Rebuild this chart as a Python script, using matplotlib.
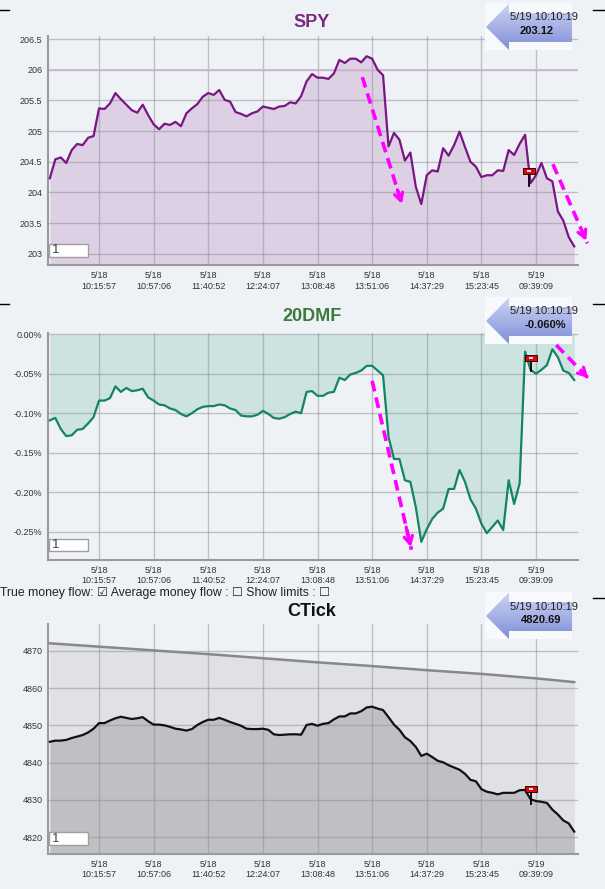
import numpy as np
import matplotlib.pyplot as plt
from matplotlib.patches import Rectangle, Polygon
from matplotlib.lines import Line2D
from matplotlib.colors import LinearSegmentedColormap

W, H = 605, 889
BG = '#EEF2F6'
FONT = ['Liberation Sans', 'DejaVu Sans']
plt.rcParams['font.family'] = FONT

# x axis is sample index, ticks every 10 samples
tick_idx = [9, 19, 29, 39, 49, 59, 69, 79, 89]
tick_day = ['5/18'] * 8 + ['5/19']
tick_time = ['10:15:57', '10:57:06', '11:40:52', '12:24:07', '13:08:48',
             '13:51:06', '14:37:29', '15:23:45', '09:39:09']

spy = [204.23, 204.54, 204.57, 204.48, 204.69, 204.79, 204.77, 204.89, 204.92, 205.37,
       205.36, 205.45, 205.62, 205.52, 205.43, 205.34, 205.30, 205.43, 205.26, 205.11,
       205.03, 205.12, 205.10, 205.15, 205.08, 205.29, 205.37, 205.44, 205.56, 205.62,
       205.59, 205.67, 205.51, 205.48, 205.31, 205.28, 205.24, 205.29, 205.32, 205.40,
       205.38, 205.36, 205.40, 205.41, 205.47, 205.45, 205.57, 205.81, 205.93, 205.87,
       205.87, 205.85, 205.94, 206.16, 206.11, 206.18, 206.18, 206.12, 206.22, 206.18,
       206.00, 205.91, 204.75, 204.97, 204.86, 204.52, 204.65, 204.09, 203.81, 204.28,
       204.36, 204.34, 204.72, 204.60, 204.77, 204.99, 204.74, 204.50, 204.42, 204.25,
       204.28, 204.28, 204.36, 204.35, 204.69, 204.61, 204.79, 204.94, 204.15, 204.28,
       204.48, 204.23, 204.18, 203.69, 203.54, 203.27, 203.12]

dmf = [-0.109, -0.106, -0.120, -0.129, -0.128, -0.121, -0.120, -0.113, -0.105, -0.084,
       -0.084, -0.081, -0.066, -0.073, -0.068, -0.072, -0.071, -0.069, -0.080, -0.084,
       -0.089, -0.090, -0.094, -0.096, -0.101, -0.104, -0.100, -0.095, -0.092, -0.091,
       -0.091, -0.089, -0.090, -0.094, -0.096, -0.103, -0.104, -0.104, -0.102, -0.097,
       -0.101, -0.106, -0.107, -0.105, -0.101, -0.098, -0.100, -0.073, -0.072, -0.078,
       -0.078, -0.074, -0.073, -0.055, -0.058, -0.051, -0.049, -0.046, -0.040, -0.040,
       -0.046, -0.052, -0.130, -0.158, -0.158, -0.185, -0.187, -0.219, -0.263, -0.247,
       -0.234, -0.226, -0.221, -0.196, -0.196, -0.172, -0.187, -0.209, -0.221, -0.240,
       -0.252, -0.244, -0.236, -0.248, -0.185, -0.215, -0.189, -0.022, -0.045, -0.050,
       -0.045, -0.039, -0.019, -0.029, -0.046, -0.049, -0.058]

ctick = [4845.6, 4845.9, 4845.9, 4846.1, 4846.6, 4847.0, 4847.4, 4848.1, 4849.1, 4850.6,
         4850.6, 4851.3, 4851.9, 4852.3, 4852.0, 4851.7, 4851.9, 4852.2, 4851.1, 4850.2,
         4850.2, 4850.0, 4849.6, 4849.1, 4848.9, 4848.6, 4849.0, 4850.1, 4850.9, 4851.5,
         4851.5, 4852.0, 4851.5, 4850.9, 4850.4, 4849.9, 4849.1, 4849.0, 4849.0, 4849.1,
         4848.8, 4847.6, 4847.4, 4847.5, 4847.6, 4847.6, 4847.5, 4850.1, 4850.4, 4849.9,
         4850.4, 4850.6, 4851.6, 4852.4, 4852.4, 4853.2, 4853.2, 4853.8, 4854.8, 4855.0,
         4854.5, 4854.1, 4852.2, 4850.2, 4848.8, 4846.8, 4845.8, 4844.2, 4841.8, 4842.4,
         4841.5, 4840.5, 4840.1, 4839.3, 4838.7, 4838.1, 4837.0, 4835.4, 4835.0, 4832.9,
         4832.2, 4831.9, 4831.5, 4831.9, 4831.9, 4831.9, 4832.6, 4832.7, 4830.2, 4829.7,
         4829.5, 4829.2, 4827.4, 4826.1, 4824.5, 4823.7, 4821.5]

trend_idx = [0, 9, 19, 29, 39, 49, 59, 69, 79, 89, 96]
trend_val = [4872.0, 4871.1, 4870.1, 4869.1, 4868.0, 4866.9, 4865.9, 4864.8, 4863.8, 4862.6, 4861.6]

idx = np.arange(len(spy))

fig = plt.figure(figsize=(W / 100, H / 100), dpi=100, facecolor=BG)


def px_rect(top, bottom):
    return [48 / W, 1 - bottom / H, 530 / W, (bottom - top) / H]


def style(ax, ylim, yticks, ylabels):
    ax.set_facecolor(BG)
    ax.set_xlim(-0.34, 96.69)
    ax.set_ylim(*ylim)
    ax.set_xticks(tick_idx)
    ax.set_xticklabels([d + '\n' + t for d, t in zip(tick_day, tick_time)],
                       fontsize=6.5, color='#333333', linespacing=1.25)
    ax.set_yticks(yticks)
    ax.set_yticklabels(ylabels, fontsize=6.5, color='#333333')
    ax.tick_params(length=0, pad=4)
    ax.set_axisbelow('line')
    ax.grid(True, color='#8E8E96', alpha=0.5, lw=1)
    for s in ['top', 'right']:
        ax.spines[s].set_visible(False)
    for s in ['left', 'bottom']:
        ax.spines[s].set_color('#9A9A9A')
        ax.spines[s].set_linewidth(1.5)
    # the small "1" input box
    ax.add_patch(Rectangle((0.002, 0.038), 0.074, 0.056, transform=ax.transAxes,
                           facecolor='white', edgecolor='#A0A0A0', lw=1, zorder=8))
    ax.text(0.008, 0.066, '1', transform=ax.transAxes, fontsize=9.5, color='#444444',
            va='center', ha='left', zorder=9)


def flag(ax, x, ytop, ybot):
    ax.plot([x, x], [ytop, ybot], color='black', lw=1.3, zorder=6)
    box = [(-1, -0.45), (1, -0.45), (1, 0.45), (-1, 0.45), (-1, -0.45)]
    ax.plot([x], [ytop], marker=box, ms=9, mfc='#EE0000', mec='black', mew=0.6, zorder=7)
    ax.plot([x], [ytop], marker='_', ms=3, mec='white', mew=1.3, zorder=8)


def pink_arrow(ax, p0, p1):
    ax.plot([p0[0], p1[0]], [p0[1], p1[1]], color='#FF00FF', lw=2.6,
            dashes=(3, 1.7), clip_on=False, zorder=9)
    mid = (p0[0] + 0.85 * (p1[0] - p0[0]), p0[1] + 0.85 * (p1[1] - p0[1]))
    ax.annotate('', xy=p1, xytext=mid, annotation_clip=False, zorder=9,
                arrowprops=dict(arrowstyle='->,head_length=0.55,head_width=0.3',
                                color='#FF00FF', lw=2.3))


cmap_c = LinearSegmentedColormap.from_list('callout', ['#CDD4F3', '#A7B2E6', '#7F8ED7'])


def callout(top, line1, line2, cx2):
    axc = fig.add_axes([485 / W, 1 - (top + 47) / H, 87 / W, 47 / H])
    axc.axis('off')
    axc.add_patch(Rectangle((0, 0), 87, 47, facecolor='#F7F9FC', edgecolor='none', zorder=1))
    poly = Polygon([(1, 24), (24, 0.5), (24, 10), (87, 10), (87, 39), (24, 39), (24, 47)],
                   closed=True, facecolor='none', edgecolor='none', zorder=1)
    axc.add_patch(poly)
    grad = np.linspace(0, 1, 60).reshape(-1, 1)
    img = axc.imshow(grad, extent=(0, 87, 47, 0), cmap=cmap_c, aspect='auto', zorder=2)
    img.set_clip_path(poly)
    axc.set_xlim(0, 87)
    axc.set_ylim(47, 0)
    fig.text(578 / W, 1 - (top + 14.5) / H, line1, ha='right', va='center',
             fontsize=8, color='#222222', zorder=10)
    fig.text(cx2 / W, 1 - (top + 28) / H, line2, ha='center', va='center',
             fontsize=8, fontweight='bold', color='#111111', zorder=10)


# ---------- SPY ----------
ax1 = fig.add_axes(px_rect(36, 265.4))
style(ax1, (202.81, 206.55), np.arange(203, 206.51, 0.5),
      ['203', '203.5', '204', '204.5', '205', '205.5', '206', '206.5'])
ax1.axhline(206, color='#CDB4CF', lw=1.2, zorder=1.6)
ax1.fill_between(idx, spy, 202.81, color='#DDD0E4', lw=0, zorder=1)
ax1.plot(idx, spy, color='#7A1584', lw=1.6, zorder=3)
flag(ax1, 87.8, 204.35, 204.11)
pink_arrow(ax1, (57.2, 205.88), (64.6, 203.77))
pink_arrow(ax1, (92.1, 204.46), (98.4, 203.17))
fig.text(312 / W, 1 - 22.7 / H, 'SPY', ha='center', va='center', fontsize=13,
         fontweight='bold', color='#7A2A7E')
callout(3, '5/19 10:10:19', '203.12', 537)

# ---------- 20DMF ----------
ax2 = fig.add_axes(px_rect(332.7, 560))
style(ax2, (-0.286, 0.002), [0, -0.05, -0.10, -0.15, -0.20, -0.25],
      ['0.00%', '-0.05%', '-0.10%', '-0.15%', '-0.20%', '-0.25%'])
ax2.fill_between(idx, dmf, 0, color='#CDE3E1', lw=0, zorder=1)
ax2.plot(idx, dmf, color='#13855F', lw=1.6, zorder=3)
flag(ax2, 88.1, -0.030, -0.0465)
pink_arrow(ax2, (59.0, -0.059), (66.2, -0.273))
pink_arrow(ax2, (92.7, -0.0136), (98.9, -0.058))
fig.text(312 / W, 1 - 316.7 / H, '20DMF', ha='center', va='center', fontsize=13,
         fontweight='bold', color='#3A7A3A')
callout(297, '5/19 10:10:19', '-0.060%', 545.5)

# ---------- CTick ----------
ax3 = fig.add_axes(px_rect(624.3, 854))
style(ax3, (4815.5, 4877.1), [4820, 4830, 4840, 4850, 4860, 4870],
      ['4820', '4830', '4840', '4850', '4860', '4870'])
ax3.fill_between(trend_idx, trend_val, 4815.5, color='#DFE1E4', lw=0, zorder=0.9)
ax3.fill_between(idx, ctick, 4815.5, color='#BEC0C3', lw=0, zorder=1)
ax3.plot(trend_idx, trend_val, color='#88888C', lw=1.8, zorder=3)
ax3.plot(idx, ctick, color='#111111', lw=1.6, zorder=3)
flag(ax3, 88.1, 4832.9, 4829.0)
fig.text(312 / W, 1 - 611 / H, 'CTick', ha='center', va='center', fontsize=13,
         fontweight='bold', color='#111111')
callout(592, '5/19 10:10:19', '4820.69', 541)

# control line between panels 2 and 3
fig.text(0, 1 - 593 / H, 'True money flow: \u2611 Average money flow : \u2610 Show limits : \u2610',
         ha='left', va='center', fontsize=8.8, color='#222222')

# little corner dashes
for y, left in [(10, True), (304, True), (598, False)]:
    if left:
        fig.add_artist(Line2D([0, 9 / W], [1 - y / H] * 2, color='black', lw=1))
    fig.add_artist(Line2D([593 / W, 1], [1 - y / H] * 2, color='black', lw=1))

fig.savefig('out.png', dpi=100, facecolor=BG)
